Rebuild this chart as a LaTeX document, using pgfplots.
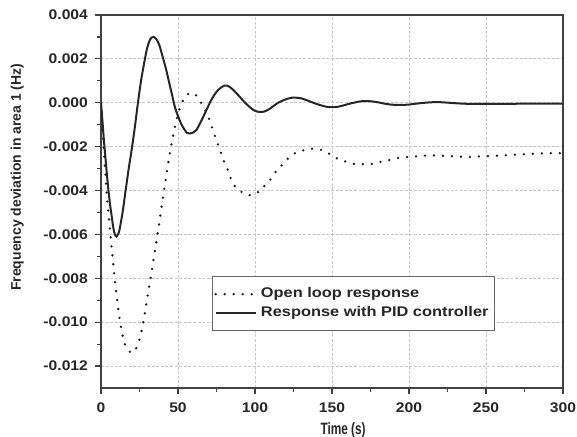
\documentclass[border=0pt]{standalone}
\usepackage{fontspec}
\setmainfont{Liberation Sans}
\newfontfamily\tickfont[FakeStretch=1.12]{Liberation Sans}
\newfontfamily\legfont[FakeStretch=1.17]{Liberation Sans}
\newfontfamily\narrowfont[FakeStretch=0.72]{Liberation Sans}
\usepackage{pgfplots}
\pgfplotsset{compat=1.18}

\newcommand{\lblfont}{\fontsize{7}{8.4}\selectfont\bfseries}

\begin{document}
\begin{tikzpicture}
\begin{axis}[
  scale only axis,
  width=231pt, height=186.5pt,
  xmin=0, xmax=300,
  ymin=-0.013, ymax=0.004,
  xtick={0,50,100,150,200,250,300},
  xticklabels={0,50,100,150,200,250,300},
  ytick={-0.012,-0.010,-0.008,-0.006,-0.004,-0.002,0,0.002,0.004},
  yticklabels={-0.012,-0.010,-0.008,-0.006,-0.004,-0.002,0.000,0.002,0.004},
  scaled y ticks=false,
  minor x tick num=1,
  minor y tick num=1,
  tick pos=left,
  tick align=outside,
  major tick length=3pt,
  minor tick length=2pt,
  tick style={black!75, line width=0.6pt},
  axis line style={black!75, line width=0.8pt},
  grid=major,
  major grid style={black!22, line width=0.4pt, dash pattern=on 1.5pt off 0.8pt},
  tick label style={font=\tickfont\lblfont, text=black!85},
  xticklabel style={yshift=-1pt},
  xlabel={Time (s)},
  ylabel={Frequency deviation in area 1 (Hz)},
  label style={font=\lblfont, text=black!85},
  xlabel style={font=\narrowfont\fontsize{8.2}{9}\selectfont\bfseries,
    at={(ticklabel cs:0.524)}, yshift=2pt},
  ylabel style={at={(ticklabel cs:0.565)}, yshift=3pt},
  legend style={at={(0.24,0.30)}, anchor=north west, draw=black!60,
    line width=0.5pt, fill=white, font=\legfont\lblfont, text=black!85,
    inner xsep=1pt, inner ysep=3.5pt, row sep=-1pt},
  legend cell align=left,
  legend image code/.code={\draw[#1] (0pt,0pt) -- (20pt,0pt);},
]
\addplot[black!90, line width=1.3pt, line cap=round, dash pattern=on 0pt off 4.5pt, smooth]
coordinates {
(0,0) (1,-0.0012) (2,-0.0023) (3,-0.0034) (4,-0.0044) (6,-0.0059)
(8,-0.0074) (10,-0.0087) (12,-0.0098) (14,-0.0106) (16,-0.0111)
(18,-0.0113) (20,-0.0114) (22,-0.0113) (24,-0.0110) (26,-0.0105)
(28,-0.0098) (30,-0.0089) (32,-0.0081) (34,-0.0072) (36,-0.0063)
(38,-0.0054) (40,-0.0044) (42,-0.0035) (44,-0.0026) (46,-0.0018)
(48,-0.0011) (50,-0.0005) (52,-0.0001) (54,0.00021) (56,0.00038)
(58,0.00045) (60,0.00044) (62,0.00032) (64,0.00012) (66,-0.00012)
(68,-0.0004) (70,-0.0007) (72,-0.0011) (74,-0.0015) (76,-0.0019)
(78,-0.0023) (80,-0.0027) (82,-0.0030) (84,-0.0034) (86,-0.0037)
(88,-0.0039) (90,-0.0040) (92,-0.0041) (95,-0.0042) (98,-0.0042)
(101,-0.0041) (104,-0.0040) (107,-0.0037) (110,-0.0035) (114,-0.0031)
(118,-0.0028) (122,-0.0025) (126,-0.0023) (130,-0.0022) (135,-0.0021)
(140,-0.0021) (145,-0.0022) (150,-0.0024) (155,-0.0026) (160,-0.0027)
(165,-0.0028) (170,-0.0028) (175,-0.0028) (181,-0.0027) (188,-0.0026)
(194,-0.0025) (200,-0.00247) (213,-0.0024) (226,-0.00243) (238,-0.00247)
(248,-0.00244) (261,-0.0024) (274,-0.00235) (290,-0.0023) (300,-0.0023)
};
\addlegendentry{Open loop response}
\addplot[black!85, line width=1pt, smooth]
coordinates {
(0,0) (1,-0.0009) (2,-0.0018) (3,-0.0026) (4,-0.0034) (5,-0.0041)
(6,-0.0047) (7,-0.0052) (8,-0.0057) (9,-0.0060) (10,-0.0061)
(11,-0.0060) (12,-0.0058) (14,-0.0050) (16,-0.0040) (18,-0.0030)
(20,-0.0021) (22,-0.0011) (24,0.0000) (26,0.0010) (28,0.0018)
(30,0.0025) (32,0.0029) (34,0.0030) (36,0.0029) (38,0.0026)
(40,0.0021) (42,0.0016) (44,0.0010) (46,0.0004) (48,-0.0002)
(50,-0.0006) (52,-0.00095) (54,-0.0012) (56,-0.00138) (58,-0.0014)
(60,-0.00135) (62,-0.00124) (64,-0.00098) (66,-0.0007) (68,-0.0004)
(70,-0.0001) (72,0.00018) (74,0.0004) (76,0.00058) (78,0.0007)
(80,0.00078) (82,0.00078) (84,0.0007) (86,0.00058) (88,0.00043)
(90,0.00028) (92,0.00012) (94,-0.00003) (96,-0.00016) (98,-0.00028)
(100,-0.00037) (103,-0.00042) (106,-0.0004) (109,-0.0003) (112,-0.00015)
(115,0.0000) (118,0.0001) (121,0.00018) (124,0.00023) (127,0.00023)
(130,0.0002) (133,0.00013) (136,0.00005) (139,-0.00003) (142,-0.0001)
(145,-0.00016) (148,-0.0002) (151,-0.0002) (154,-0.00018) (157,-0.00013)
(160,-0.00007) (164,0.0000) (168,0.00006) (172,0.00008) (176,0.00006)
(180,0.00002) (184,-0.00004) (188,-0.00008) (192,-0.0001) (196,-0.0001)
(200,-0.00008) (206,-0.00003) (212,0.00001) (218,0.00003) (224,0.00001)
(232,-0.00003) (240,-0.00005) (260,-0.00005) (280,-0.00004) (300,-0.00004)
};
\addlegendentry{Response with PID controller}
\end{axis}
\pgfresetboundingbox
\path ([shift={(-50.5pt,-24.5pt)}]current axis.south west)
  rectangle ([shift={(7pt,7.5pt)}]current axis.north east);
\end{tikzpicture}
\end{document}
